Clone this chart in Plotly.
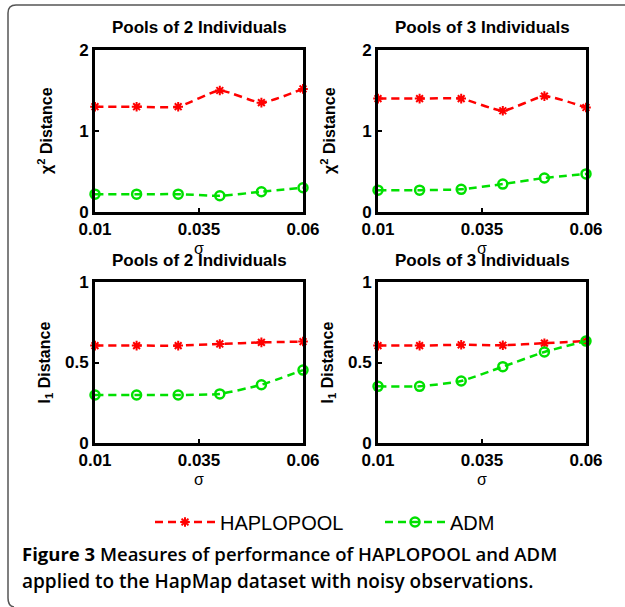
import plotly.graph_objects as go

# ---------------- data ----------------
sigma = [0.01, 0.02, 0.03, 0.04, 0.05, 0.06]
x_tickvals = [0.01, 0.035, 0.06]
x_ticktext = ["0.01", "0.035", "0.06"]
chi_tickvals = [0, 1, 2]
chi_ticktext = ["0", "1", "2"]
l1_tickvals = [0, 0.5, 1]
l1_ticktext = ["0", "0.5", "1"]

chi2_pool2_haplopool = [1.30, 1.30, 1.30, 1.50, 1.35, 1.52]
chi2_pool2_adm = [0.22, 0.22, 0.22, 0.20, 0.25, 0.30]
chi2_pool3_haplopool = [1.40, 1.40, 1.40, 1.25, 1.43, 1.29]
chi2_pool3_adm = [0.27, 0.27, 0.28, 0.345, 0.42, 0.47]
l1_pool2_haplopool = [0.605, 0.605, 0.605, 0.615, 0.625, 0.63]
l1_pool2_adm = [0.298, 0.298, 0.298, 0.305, 0.362, 0.453]
l1_pool3_haplopool = [0.605, 0.605, 0.61, 0.607, 0.62, 0.633]
l1_pool3_adm = [0.352, 0.352, 0.385, 0.474, 0.565, 0.633]

panel_titles = ["Pools of 2 Individuals", "Pools of 3 Individuals",
                "Pools of 2 Individuals", "Pools of 3 Individuals"]
series_names = ["HAPLOPOOL", "ADM"]

W, H = 625, 607
RED = "#ff0000"
GREEN = "#00e000"


def px_x(p):
    return p / W


def px_y(p):
    return 1 - p / H


# panel pixel boxes (left, right, top, bottom)
boxes = [(95, 303, 50, 212), (378, 586, 50, 212),
         (95, 303, 282, 443), (378, 586, 282, 443)]

panels = [
    (chi2_pool2_haplopool, chi2_pool2_adm, "chi"),
    (chi2_pool3_haplopool, chi2_pool3_adm, "chi"),
    (l1_pool2_haplopool, l1_pool2_adm, "l1"),
    (l1_pool3_haplopool, l1_pool3_adm, "l1"),
]

fig = go.Figure()
layout = dict(
    width=W, height=H, margin=dict(l=0, r=0, t=0, b=0, pad=0, autoexpand=False),
    paper_bgcolor="white", plot_bgcolor="white",
    font=dict(family="Arial", color="black"),
    showlegend=True,
)

annotations = []
tick_font = dict(family="Arial", size=17, color="black", weight="bold")

for i, ((hp, adm, kind), (l, r, t, b)) in enumerate(zip(panels, boxes)):
    n = "" if i == 0 else str(i + 1)
    xa, ya = "x" + n, "y" + n
    fig.add_trace(go.Scatter(
        x=sigma, y=hp, xaxis=xa, yaxis=ya, name=series_names[0],
        mode="lines+markers", cliponaxis=False, showlegend=(i == 0),
        line=dict(color=RED, width=2.5, dash="8px,5px", shape="spline", smoothing=0.5),
        marker=dict(symbol="asterisk-open", size=8, color=RED, line=dict(color=RED, width=2)),
    ))
    fig.add_trace(go.Scatter(
        x=sigma, y=adm, xaxis=xa, yaxis=ya, name=series_names[1],
        mode="lines+markers", cliponaxis=False, showlegend=(i == 0),
        line=dict(color=GREEN, width=2.5, dash="8px,5px", shape="spline", smoothing=0.5),
        marker=dict(symbol="circle-open", size=9, color=GREEN, line=dict(color=GREEN, width=2.5)),
    ))
    axis_common = dict(showline=True, linewidth=3, linecolor="black", mirror=True,
                       ticks="inside", ticklen=4, tickwidth=1.5, tickcolor="black",
                       showgrid=False, zeroline=False, tickfont=tick_font,
                       automargin=False)
    layout["xaxis" + n] = dict(
        domain=[px_x(l), px_x(r)], anchor=ya, range=[0.01, 0.06],
        tickvals=x_tickvals, ticktext=x_ticktext, **axis_common)
    if kind == "chi":
        yr, tv, tt = [0, 2], chi_tickvals, chi_ticktext
        ylab = "χ<sup>2</sup> Distance"
    else:
        yr, tv, tt = [0, 1], l1_tickvals, l1_ticktext
        ylab = "l<sub>1</sub> Distance"
    layout["yaxis" + n] = dict(
        domain=[px_y(b), px_y(t)], anchor=xa, range=yr,
        tickvals=tv, ticktext=tt, **axis_common)

    cx = (l + r) / 2
    # panel title
    annotations.append(dict(text=panel_titles[i], x=px_x(cx), y=px_y(t - 22),
                            xref="paper", yref="paper", showarrow=False,
                            xanchor="center", yanchor="middle",
                            font=dict(family="Arial", size=17, weight="bold")))
    # x axis title (sigma)
    annotations.append(dict(text="σ", x=px_x(cx), y=px_y(b + 36),
                            xref="paper", yref="paper", showarrow=False,
                            xanchor="center", yanchor="middle",
                            font=dict(family="Arial", size=16)))
    # y axis title
    annotations.append(dict(text=ylab, x=px_x(l - 50), y=px_y((t + b) / 2),
                            xref="paper", yref="paper", showarrow=False,
                            textangle=-90, xanchor="center", yanchor="middle",
                            font=dict(family="Arial", size=16, weight="bold")))

# caption
cap_font = dict(family="Open Sans", size=18.5, weight=600)
annotations.append(dict(
    text="<b>Figure 3</b> Measures of performance of HAPLOPOOL and ADM",
    x=px_x(20), y=px_y(553), xref="paper", yref="paper", showarrow=False,
    xanchor="left", yanchor="middle", font=cap_font))
annotations.append(dict(
    text="applied to the HapMap dataset with noisy observations.",
    x=px_x(20), y=px_y(581), xref="paper", yref="paper", showarrow=False,
    xanchor="left", yanchor="middle",
    font=dict(family="Open Sans", size=19, weight=600)))

layout["annotations"] = annotations
layout["legend"] = dict(orientation="h", x=px_x(150), xanchor="left",
                        y=px_y(522), yanchor="middle",
                        font=dict(family="Arial", size=20),
                        bgcolor="rgba(0,0,0,0)", entrywidth=155,
                        itemwidth=60)

# frame (rounded top-left corner)
r = 8
frame = (f"M {px_x(W)},{px_y(5)} L {px_x(8 + r)},{px_y(5)} "
         f"Q {px_x(8)},{px_y(5)} {px_x(8)},{px_y(5 + r)} "
         f"L {px_x(8)},{px_y(598)} Q {px_x(8)},{px_y(606)} {px_x(14)},{px_y(607)}")
layout["shapes"] = [dict(type="path", path=frame, xref="paper", yref="paper",
                         line=dict(color="#555555", width=1.5))]

fig.update_layout(**layout)
fig.write_html("out.html", config={"displayModeBar": False},
               post_script="document.body.style.margin='0px';document.body.style.overflow='hidden';")
